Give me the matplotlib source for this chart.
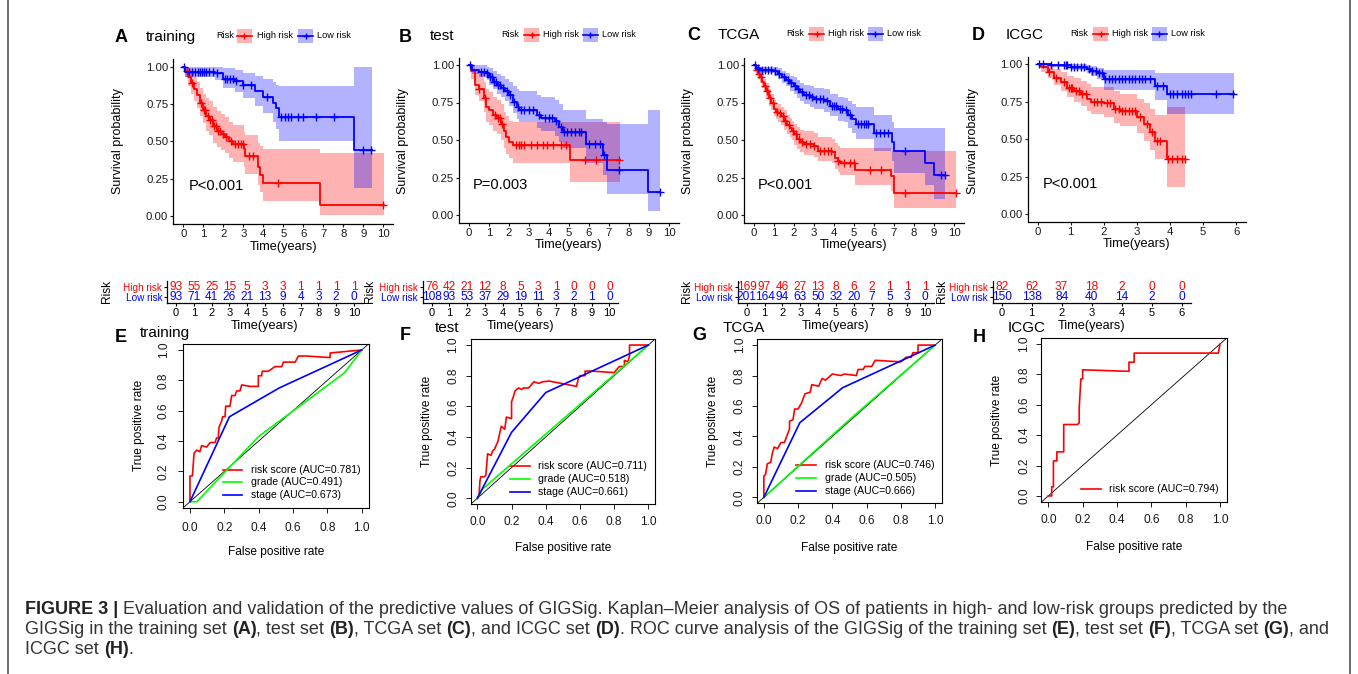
import numpy as np
import matplotlib
matplotlib.use('Agg')
import matplotlib.pyplot as plt
from matplotlib.patches import Rectangle

plt.rcParams['font.family'] = ['Liberation Sans', 'DejaVu Sans']

RED, BLUE, GREEN = '#FF0000', '#0000FF', '#00FF00'

# ---------------- Kaplan-Meier data (time in years) ----------------
# training
train_high_t = [0, 0.1, 0.25, 0.4, 0.55, 0.7, 0.85, 1.0, 1.15, 1.3, 1.5, 1.7, 1.9, 2.1, 2.3, 2.5, 3.05, 3.1, 3.75, 3.85, 4.0, 6.85, 10.05]
train_high_s = [1.0, 0.97, 0.93, 0.89, 0.85, 0.81, 0.76, 0.71, 0.67, 0.645, 0.6, 0.57, 0.55, 0.53, 0.5, 0.48, 0.45, 0.4, 0.33, 0.275, 0.22, 0.075, 0.075]
train_high_lo = [1.0, 0.93, 0.87, 0.82, 0.77, 0.72, 0.67, 0.62, 0.57, 0.54, 0.49, 0.46, 0.44, 0.42, 0.39, 0.36, 0.33, 0.28, 0.21, 0.16, 0.10, 0.01, 0.01]
train_high_hi = [1.0, 1.0, 0.99, 0.96, 0.93, 0.9, 0.86, 0.82, 0.79, 0.77, 0.73, 0.70, 0.68, 0.66, 0.63, 0.61, 0.56, 0.54, 0.49, 0.47, 0.45, 0.42, 0.42]
train_high_cens = [0.2, 0.45, 0.9, 1.05, 1.1, 1.25, 1.35, 1.45, 1.55, 1.65, 1.75, 1.85, 2.0, 2.15, 2.4, 2.6, 2.75, 2.9, 3.0, 3.3, 3.5, 4.75, 10.0]
train_low_t = [0, 0.1, 1.6, 2.0, 2.6, 3.0, 3.6, 4.0, 4.5, 4.65, 4.8, 8.55, 9.45]
train_low_s = [1.0, 0.965, 0.955, 0.92, 0.905, 0.875, 0.84, 0.80, 0.76, 0.72, 0.665, 0.445, 0.445]
train_low_lo = [1.0, 0.93, 0.91, 0.86, 0.83, 0.79, 0.74, 0.69, 0.63, 0.58, 0.505, 0.19, 0.19]
train_low_hi = [1.0, 1.0, 1.0, 0.99, 0.98, 0.96, 0.94, 0.92, 0.90, 0.88, 0.87, 1.0, 1.0]
train_low_cens = [0.05, 0.3, 0.45, 0.6, 0.75, 0.85, 0.95, 1.05, 1.15, 1.3, 1.5, 1.7, 2.1, 2.2, 2.35, 2.5, 2.65, 3.0, 3.4, 4.2, 4.9, 5.1, 5.25, 5.4, 5.75, 6.0, 6.65, 7.55, 9.0, 9.4]

# test
test_high_t = [0, 0.1, 0.3, 0.5, 0.75, 0.85, 1.0, 1.2, 1.4, 1.6, 1.75, 1.85, 2.0, 2.2, 5.05, 7.55]
test_high_s = [1.0, 0.96, 0.87, 0.84, 0.78, 0.72, 0.70, 0.67, 0.65, 0.61, 0.56, 0.52, 0.49, 0.465, 0.37, 0.37]
test_high_lo = [1.0, 0.91, 0.80, 0.76, 0.69, 0.62, 0.60, 0.56, 0.54, 0.50, 0.45, 0.41, 0.38, 0.345, 0.22, 0.22]
test_high_hi = [1.0, 1.0, 0.96, 0.94, 0.89, 0.84, 0.82, 0.79, 0.77, 0.74, 0.69, 0.66, 0.63, 0.62, 0.62, 0.62]
test_high_cens = [0.5, 0.8, 1.3, 1.45, 1.55, 1.65, 2.35, 2.5, 2.6, 2.75, 3.1, 3.4, 3.7, 3.9, 4.2, 4.6, 4.85, 5.8, 6.35, 7.5]
test_low_t = [0, 0.15, 0.5, 0.9, 1.0, 1.2, 1.4, 1.6, 1.8, 2.0, 2.2, 2.4, 2.5, 3.4, 3.6, 4.3, 4.5, 4.7, 5.85, 6.7, 6.9, 8.95, 9.55]
test_low_s = [1.0, 0.97, 0.955, 0.945, 0.92, 0.89, 0.87, 0.85, 0.83, 0.80, 0.755, 0.72, 0.70, 0.67, 0.65, 0.63, 0.59, 0.555, 0.475, 0.40, 0.30, 0.155, 0.155]
test_low_lo = [1.0, 0.94, 0.92, 0.90, 0.87, 0.84, 0.81, 0.79, 0.76, 0.73, 0.68, 0.64, 0.62, 0.58, 0.56, 0.53, 0.49, 0.45, 0.35, 0.27, 0.14, 0.03, 0.03]
test_low_hi = [1.0, 1.0, 1.0, 0.99, 0.98, 0.96, 0.94, 0.93, 0.91, 0.89, 0.86, 0.84, 0.83, 0.80, 0.79, 0.77, 0.74, 0.70, 0.64, 0.62, 0.61, 0.70, 0.70]
test_low_cens = [0.05, 0.6, 0.75, 0.9, 1.05, 1.15, 1.25, 1.35, 1.45, 1.55, 1.7, 1.9, 2.05, 2.25, 2.45, 2.6, 2.75, 3.0, 3.2, 3.5, 3.8, 4.0, 4.15, 4.35, 4.6, 4.75, 4.9, 5.1, 5.3, 5.5, 5.6, 6.0, 6.3, 6.55, 6.75, 7.5, 9.55]

# TCGA
tcga_high_t = [0, 0.1, 0.2, 0.3, 0.4, 0.5, 0.6, 0.75, 0.85, 1.0, 1.1, 1.2, 1.35, 1.5, 1.65, 1.8, 1.9, 2.0, 2.15, 2.3, 2.5, 3.0, 3.2, 3.9, 4.05, 4.2, 4.3, 5.05, 6.85, 7.0, 10.1]
tcga_high_s = [1.0, 0.97, 0.94, 0.92, 0.89, 0.86, 0.83, 0.78, 0.75, 0.71, 0.69, 0.68, 0.66, 0.63, 0.60, 0.58, 0.56, 0.54, 0.51, 0.49, 0.475, 0.46, 0.43, 0.42, 0.38, 0.36, 0.345, 0.30, 0.26, 0.15, 0.15]
tcga_high_lo = [1.0, 0.95, 0.91, 0.88, 0.85, 0.82, 0.78, 0.73, 0.70, 0.66, 0.64, 0.62, 0.60, 0.57, 0.54, 0.52, 0.50, 0.47, 0.44, 0.42, 0.40, 0.39, 0.36, 0.35, 0.31, 0.29, 0.27, 0.20, 0.16, 0.05, 0.05]
tcga_high_hi = [1.0, 0.99, 0.97, 0.96, 0.94, 0.91, 0.88, 0.84, 0.81, 0.77, 0.75, 0.74, 0.72, 0.70, 0.67, 0.65, 0.63, 0.61, 0.59, 0.57, 0.56, 0.55, 0.52, 0.51, 0.48, 0.46, 0.45, 0.45, 0.43, 0.43, 0.43]
tcga_high_cens = [0.15, 0.25, 0.35, 0.55, 0.65, 0.8, 0.95, 1.15, 1.3, 1.45, 1.55, 1.75, 1.95, 2.1, 2.25, 2.4, 2.6, 2.8, 3.0, 3.3, 3.5, 3.7, 3.85, 4.2, 4.5, 4.8, 5.0, 5.8, 6.35, 7.55, 10.1]
tcga_low_t = [0, 0.1, 0.3, 1.0, 1.2, 1.4, 1.6, 1.8, 2.0, 2.15, 2.3, 2.5, 2.8, 3.0, 3.5, 3.8, 4.2, 4.5, 4.7, 4.9, 5.1, 6.0, 6.9, 7.0, 8.55, 9.0, 9.55]
tcga_low_s = [1.0, 0.98, 0.97, 0.96, 0.94, 0.92, 0.90, 0.88, 0.86, 0.84, 0.82, 0.80, 0.785, 0.775, 0.76, 0.73, 0.71, 0.70, 0.67, 0.64, 0.61, 0.55, 0.49, 0.43, 0.35, 0.265, 0.265]
tcga_low_lo = [1.0, 0.96, 0.95, 0.93, 0.91, 0.88, 0.86, 0.83, 0.81, 0.78, 0.76, 0.74, 0.72, 0.71, 0.69, 0.66, 0.63, 0.62, 0.58, 0.55, 0.51, 0.43, 0.36, 0.28, 0.20, 0.11, 0.11]
tcga_low_hi = [1.0, 1.0, 0.99, 0.99, 0.98, 0.96, 0.95, 0.93, 0.92, 0.90, 0.88, 0.87, 0.86, 0.85, 0.84, 0.81, 0.79, 0.78, 0.76, 0.74, 0.72, 0.67, 0.62, 0.58, 0.58, 0.58, 0.58]
tcga_low_cens = [0.05, 0.2, 0.4, 0.55, 0.7, 0.85, 1.05, 1.25, 1.5, 1.7, 1.85, 2.05, 2.2, 2.4, 2.6, 2.75, 2.9, 3.1, 3.3, 3.45, 3.65, 3.9, 4.0, 4.1, 4.3, 4.4, 4.6, 4.8, 5.2, 5.35, 5.5, 5.6, 5.7, 6.1, 6.3, 6.5, 6.7, 7.55, 9.35, 9.55]

# ICGC
icgc_high_t = [0, 0.1, 0.3, 0.5, 0.7, 0.9, 1.1, 1.3, 1.5, 1.6, 2.0, 2.3, 2.5, 3.0, 3.2, 3.4, 3.55, 3.9, 4.45]
icgc_high_s = [1.0, 0.98, 0.95, 0.91, 0.88, 0.84, 0.82, 0.80, 0.77, 0.75, 0.74, 0.70, 0.685, 0.645, 0.60, 0.55, 0.49, 0.37, 0.37]
icgc_high_lo = [1.0, 0.95, 0.91, 0.86, 0.82, 0.78, 0.75, 0.72, 0.69, 0.67, 0.65, 0.61, 0.59, 0.54, 0.49, 0.43, 0.37, 0.18, 0.18]
icgc_high_hi = [1.0, 1.0, 0.99, 0.97, 0.95, 0.92, 0.91, 0.89, 0.87, 0.85, 0.85, 0.82, 0.80, 0.77, 0.74, 0.70, 0.66, 0.715, 0.715]
icgc_high_cens = [0.35, 0.55, 0.8, 0.95, 1.0, 1.05, 1.15, 1.25, 1.35, 1.45, 1.7, 1.8, 1.9, 2.1, 2.2, 2.35, 2.45, 2.55, 2.65, 2.75, 2.85, 2.95, 3.1, 3.3, 3.45, 3.6, 3.7, 3.95, 4.05, 4.2, 4.35, 4.45]
icgc_low_t = [0, 0.4, 1.0, 1.5, 1.6, 1.8, 2.0, 3.55, 3.9, 5.95]
icgc_low_s = [1.0, 0.995, 0.985, 0.97, 0.955, 0.94, 0.90, 0.855, 0.80, 0.80]
icgc_low_lo = [1.0, 0.985, 0.965, 0.945, 0.925, 0.905, 0.83, 0.76, 0.67, 0.67]
icgc_low_hi = [1.0, 1.0, 1.0, 0.995, 0.99, 0.975, 0.96, 0.945, 0.945, 0.945]
icgc_low_cens = [0.05, 0.15, 0.4, 0.6, 0.8, 0.85, 0.9, 1.0, 1.1, 1.2, 1.3, 1.4, 1.55, 1.65, 1.75, 1.85, 1.95, 2.05, 2.15, 2.25, 2.35, 2.45, 2.55, 2.65, 2.75, 2.85, 2.95, 3.05, 3.15, 3.25, 3.4, 3.6, 3.8, 4.0, 4.1, 4.2, 4.35, 4.45, 4.55, 4.65, 5.4, 5.9]

# ---------------- numbers at risk ----------------
times_10 = list(range(11))
times_6 = list(range(7))
train_risk_high = [93, 55, 25, 15, 5, 3, 3, 1, 1, 1, 1]
train_risk_low = [93, 71, 41, 26, 21, 13, 9, 4, 3, 2, 0]
test_risk_high = [76, 42, 21, 12, 8, 5, 3, 1, 0, 0, 0]
test_risk_low = [108, 93, 53, 37, 29, 19, 11, 3, 2, 1, 0]
tcga_risk_high = [169, 97, 46, 27, 13, 8, 6, 2, 1, 1, 1]
tcga_risk_low = [201, 164, 94, 63, 50, 32, 20, 7, 5, 3, 0]
icgc_risk_high = [82, 62, 37, 18, 2, 0, 0]
icgc_risk_low = [150, 138, 84, 40, 14, 2, 0]

# ---------------- ROC data ----------------
train_score_fpr = [0, 0, 0.014, 0.024, 0.039, 0.058, 0.068, 0.097, 0.117, 0.146, 0.155, 0.165, 0.169, 0.184, 0.19, 0.204, 0.208, 0.233, 0.243, 0.262, 0.272, 0.291, 0.301, 0.35, 0.398, 0.398, 0.417, 0.421, 0.456, 0.495, 0.534, 0.544, 0.612, 0.631, 0.68, 0.816, 0.816, 1.0]
train_score_tpr = [0, 0.17, 0.17, 0.32, 0.34, 0.33, 0.37, 0.36, 0.39, 0.39, 0.42, 0.42, 0.49, 0.53, 0.56, 0.56, 0.63, 0.63, 0.70, 0.70, 0.73, 0.73, 0.77, 0.76, 0.76, 0.83, 0.83, 0.86, 0.86, 0.89, 0.89, 0.92, 0.92, 0.96, 0.96, 0.95, 0.98, 1.0]
train_grade_fpr = [0, 0.04, 0.4, 0.9, 1.0]
train_grade_tpr = [0, 0.0, 0.43, 0.85, 1.0]
train_stage_fpr = [0, 0.23, 0.52, 1.0]
train_stage_tpr = [0, 0.56, 0.75, 1.0]

test_score_fpr = [0, 0.01, 0.015, 0.02, 0.04, 0.05, 0.06, 0.08, 0.09, 0.1, 0.12, 0.13, 0.14, 0.16, 0.17, 0.2, 0.2, 0.21, 0.22, 0.24, 0.26, 0.27, 0.3, 0.33, 0.36, 0.38, 0.42, 0.58, 0.59, 0.6, 0.63, 0.63, 0.67, 0.8, 0.83, 0.86, 0.86, 0.88, 0.89, 0.89, 1.0]
test_score_tpr = [0, 0.02, 0.11, 0.14, 0.14, 0.15, 0.29, 0.28, 0.31, 0.32, 0.37, 0.42, 0.47, 0.45, 0.53, 0.52, 0.63, 0.66, 0.70, 0.72, 0.71, 0.72, 0.72, 0.76, 0.75, 0.76, 0.765, 0.73, 0.78, 0.80, 0.80, 0.83, 0.83, 0.82, 0.86, 0.86, 0.90, 0.89, 0.93, 1.0, 1.0]
test_grade_fpr = [0, 0.03, 1.0]
test_grade_tpr = [0, 0.06, 1.0]
test_stage_fpr = [0, 0.2, 0.4, 1.0]
test_stage_tpr = [0, 0.43, 0.69, 1.0]

tcga_score_fpr = [0, 0, 0.01, 0.02, 0.04, 0.05, 0.06, 0.08, 0.1, 0.12, 0.13, 0.15, 0.15, 0.17, 0.18, 0.2, 0.22, 0.24, 0.27, 0.28, 0.32, 0.34, 0.36, 0.4, 0.45, 0.47, 0.54, 0.55, 0.58, 0.59, 0.63, 0.65, 0.8, 0.83, 0.86, 0.87, 0.9, 0.9, 1.0]
tcga_score_tpr = [0, 0.14, 0.15, 0.22, 0.23, 0.29, 0.33, 0.32, 0.36, 0.36, 0.39, 0.45, 0.50, 0.51, 0.58, 0.58, 0.62, 0.68, 0.69, 0.74, 0.73, 0.78, 0.77, 0.81, 0.80, 0.81, 0.80, 0.84, 0.84, 0.86, 0.86, 0.90, 0.89, 0.92, 0.92, 0.95, 0.95, 1.0, 1.0]
tcga_grade_fpr = [0, 0.5, 1.0]
tcga_grade_tpr = [0, 0.51, 1.0]
tcga_stage_fpr = [0, 0.21, 0.46, 1.0]
tcga_stage_tpr = [0, 0.49, 0.72, 1.0]

icgc_score_fpr = [0, 0.02, 0.02, 0.03, 0.03, 0.05, 0.05, 0.09, 0.09, 0.17, 0.18, 0.18, 0.19, 0.2, 0.2, 0.47, 0.47, 0.5, 0.5, 0.99, 1.0]
icgc_score_tpr = [0, 0.0, 0.06, 0.06, 0.23, 0.23, 0.29, 0.29, 0.47, 0.47, 0.48, 0.58, 0.77, 0.77, 0.83, 0.82, 0.88, 0.88, 0.94, 0.94, 1.0]

# ---------------- figure / helpers ----------------
W, H = 1358, 674
fig = plt.figure(figsize=(W / 100, H / 100), dpi=100)


def px_axes(l, t, r, b):
    return fig.add_axes([l / W, 1 - b / H, (r - l) / W, (b - t) / H])


ov = fig.add_axes([0, 0, 1, 1], zorder=10)
ov.set_xlim(0, W)
ov.set_ylim(H, 0)
ov.axis('off')


def step_at(t, s, x):
    idx = np.searchsorted(t, x, side='right') - 1
    return np.asarray(s)[idx]


def draw_km(box, tmax, ticks, curves, ptxt, pxy):
    ax = px_axes(*box)
    for t, s, lo, hi, cens, col in curves:
        ax.fill_between(t, lo, hi, step='post', color=col, alpha=0.3, lw=0)
    for t, s, lo, hi, cens, col in curves:
        ax.step(t, s, where='post', color=col, lw=1.3)
        ax.plot(cens, step_at(t, s, cens), ls='none', marker='+', ms=5.5, mew=1.0, color=col)
    ax.set_xlim(-0.05 * tmax, 1.05 * tmax)
    ax.set_ylim(-0.05, 1.05)
    ax.set_xticks(ticks)
    ax.set_yticks([0, 0.25, 0.5, 0.75, 1.0])
    ax.set_yticklabels(['0.00', '0.25', '0.50', '0.75', '1.00'])
    for sp in ['top', 'right']:
        ax.spines[sp].set_visible(False)
    for sp in ['left', 'bottom']:
        ax.spines[sp].set_linewidth(0.9)
    ax.tick_params(labelsize=8.2, length=2.5, width=0.8, pad=1.2, colors='#1a1a1a')
    ax.patch.set_alpha(0)
    ax.text(pxy[0], pxy[1], ptxt, fontsize=10.5, ha='left', va='center')
    return ax


def draw_table(box, tmax, times, high, low):
    ax = px_axes(*box)
    ax.set_xlim(-0.05 * tmax, 1.05 * tmax)
    ax.set_ylim(0.4, 2.6)
    for x, h, lw_ in zip(times, high, low):
        ax.text(x, 2, str(h), color=RED, ha='center', va='center', fontsize=8.6)
        ax.text(x, 1, str(lw_), color=BLUE, ha='center', va='center', fontsize=8.6)
    ax.set_xticks(times)
    ax.set_yticks([1, 2])
    ax.set_yticklabels(['Low risk', 'High risk'])
    for lab, col in zip(ax.get_yticklabels(), [BLUE, RED]):
        lab.set_color(col)
    for sp in ['top', 'right']:
        ax.spines[sp].set_visible(False)
    for sp in ['left', 'bottom']:
        ax.spines[sp].set_linewidth(0.9)
    ax.tick_params(axis='x', labelsize=8.0, length=2.5, width=0.8, pad=1.2)
    ax.tick_params(axis='y', labelsize=7.2, length=2.5, width=0.8, pad=1)
    ax.patch.set_alpha(0)
    return ax


def draw_roc(box, curves, pad_x):
    ax = px_axes(*box)
    ax.set_xlim(-0.04, 1.04)
    ax.set_ylim(-0.04, 1.04)
    ax.axline((0, 0), (1, 1), color='black', lw=0.6)
    ys = [0.21, 0.127, 0.043] if len(curves) == 3 else [0.043]
    for (x, y, col, lab), ly in zip(curves, ys):
        ax.plot(x, y, color=col, lw=1.2)
        ax.plot([0.19, 0.305], [ly, ly], color=col, lw=1.2)
        ax.text(0.355, ly, lab, fontsize=7.6, va='center', ha='left')
    ticks = [0, 0.2, 0.4, 0.6, 0.8, 1.0]
    ax.set_xticks(ticks)
    ax.set_yticks(ticks)
    labs = ['0.0', '0.2', '0.4', '0.6', '0.8', '1.0']
    ax.set_xticklabels(labs)
    ax.set_yticklabels(labs, rotation=90, va='center')
    for sp in ax.spines.values():
        sp.set_linewidth(0.8)
    ax.tick_params(labelsize=8.6, length=3.5, width=0.7, colors='#1a1a1a')
    ax.tick_params(axis='x', pad=pad_x)
    ax.tick_params(axis='y', pad=pad_x - 0.5)
    return ax


# ---------------- KM panels ----------------
km_panels = [
    dict(box=(173.3, 59.2, 393.3, 223.5), tmax=10, letter='A', title='training', lx=115, tx=146, ty=37,
         curves=[(train_high_t, train_high_s, train_high_lo, train_high_hi, train_high_cens, RED),
                 (train_low_t, train_low_s, train_low_lo, train_low_hi, train_low_cens, BLUE)],
         p='P<0.001', pxy=(0.25, 0.2), leg=(216.7, 236.7, 257.3, 298, 316.7), ylx=118.3, xl=(283.3, 246.7)),
    dict(box=(459, 57.5, 679, 222.5), tmax=10, letter='B', title='test', lx=398.3, tx=430, ty=36,
         curves=[(test_high_t, test_high_s, test_high_lo, test_high_hi, test_high_cens, RED),
                 (test_low_t, test_low_s, test_low_lo, test_low_hi, test_low_cens, BLUE)],
         p='P=0.003', pxy=(0.2, 0.2), leg=(501, 524, 542.7, 582.7, 602.3), ylx=403.3, xl=(568.3, 245)),
    dict(box=(744, 57.5, 964, 222.5), tmax=10, letter='C', title='TCGA', lx=687.7, tx=717.7, ty=35,
         curves=[(tcga_high_t, tcga_high_s, tcga_high_lo, tcga_high_hi, tcga_high_cens, RED),
                 (tcga_low_t, tcga_low_s, tcga_low_lo, tcga_low_hi, tcga_low_cens, BLUE)],
         p='P<0.001', pxy=(0.2, 0.2), leg=(786, 809, 827.7, 867.7, 887.3), ylx=688.3, xl=(853.3, 245)),
    dict(box=(1027.8, 56.8, 1246, 221.5), tmax=6, letter='D', title='ICGC', lx=971.7, tx=1006, ty=35,
         curves=[(icgc_high_t, icgc_high_s, icgc_high_lo, icgc_high_hi, icgc_high_cens, RED),
                 (icgc_low_t, icgc_low_s, icgc_low_lo, icgc_low_hi, icgc_low_cens, BLUE)],
         p='P<0.001', pxy=(0.15, 0.2), leg=(1070, 1093.3, 1111.7, 1151.7, 1171), ylx=973.3, xl=(1136.7, 244)),
]

for pn in km_panels:
    ticks = list(range(pn['tmax'] + 1))
    draw_km(pn['box'], pn['tmax'], ticks, pn['curves'], pn['p'], pn['pxy'])
    ov.text(pn['lx'], pn['ty'] + 1, pn['letter'], fontsize=13, fontweight='bold', ha='left', va='center')
    ov.text(pn['tx'], pn['ty'], pn['title'], fontsize=11, ha='left', va='center')
    cy = pn['ty'] - 1.5
    xr, xb1, xt1, xb2, xt2 = pn['leg']
    ov.text(xr, cy, 'Risk', fontsize=6.6, ha='left', va='center')
    for xb, xt, col, lab in [(xb1, xt1, RED, 'High risk'), (xb2, xt2, BLUE, 'Low risk')]:
        ov.add_patch(Rectangle((xb, cy - 7), 15, 14, facecolor=col, alpha=0.3, lw=0))
        ov.plot([xb, xb + 15], [cy, cy], color=col, lw=1.2)
        ov.plot([xb + 7.5], [cy], marker='+', ms=5, mew=1.0, color=col)
        ov.text(xt, cy, lab, fontsize=6.6, ha='left', va='center')
    ov.text(pn['ylx'], 141, 'Survival probability', fontsize=9, rotation=90, ha='center', va='center')
    ov.text(pn['xl'][0], pn['xl'][1], 'Time(years)', fontsize=9.2, ha='center', va='center')

# ---------------- risk tables ----------------
tables = [
    ((167.1, 280.7, 362.9, 302.7), 10, times_10, train_risk_high, train_risk_low, 107, 265),
    ((422.8, 280.7, 618.2, 302.7), 10, times_10, test_risk_high, test_risk_low, 370, 520.5),
    ((737.8, 280.7, 933.9, 302.7), 10, times_10, tcga_risk_high, tcga_risk_low, 687, 835.8),
    ((992.7, 280.7, 1190.7, 302.7), 6, times_6, icgc_risk_high, icgc_risk_low, 941.7, 1091.7),
]
for box, tmax, times, hi, lo, rx, cx in tables:
    draw_table(box, tmax, times, hi, lo)
    ov.text(rx, 291, 'Risk', fontsize=8.6, rotation=90, ha='center', va='center')
    ov.text(cx, 326, 'Time(years)', fontsize=9.2, ha='center', va='center')

# ---------------- ROC panels ----------------
roc_panels = [
    dict(box=(183.1, 343.9, 368.6, 507.8), letter='E', title='training', lx=115, ly=338, tx=140, ty=333,
         ylx=139.3, xly=551.7, pad=6.5,
         curves=[(train_score_fpr, train_score_tpr, RED, 'risk score (AUC=0.781)'),
                 (train_grade_fpr, train_grade_tpr, GREEN, 'grade (AUC=0.491)'),
                 (train_stage_fpr, train_stage_tpr, BLUE, 'stage (AUC=0.673)')]),
    dict(box=(470.5, 338.9, 655.2, 504.4), letter='F', title='test', lx=400, ly=335, tx=435, ty=328,
         ylx=426.7, xly=548.3, pad=5,
         curves=[(test_score_fpr, test_score_tpr, RED, 'risk score (AUC=0.711)'),
                 (test_grade_fpr, test_grade_tpr, GREEN, 'grade (AUC=0.518)'),
                 (test_stage_fpr, test_stage_tpr, BLUE, 'stage (AUC=0.661)')]),
    dict(box=(757, 339, 942, 503.4), letter='G', title='TCGA', lx=692, ly=335, tx=723, ty=328,
         ylx=713.3, xly=548.3, pad=5,
         curves=[(tcga_score_fpr, tcga_score_tpr, RED, 'risk score (AUC=0.746)'),
                 (tcga_grade_fpr, tcga_grade_tpr, GREEN, 'grade (AUC=0.505)'),
                 (tcga_stage_fpr, tcga_stage_tpr, BLUE, 'stage (AUC=0.666)')]),
    dict(box=(1041.4, 337.9, 1226.9, 502), letter='H', title='ICGC', lx=973, ly=338, tx=1008, ty=328,
         ylx=996.7, xly=546.7, pad=5,
         curves=[(icgc_score_fpr, icgc_score_tpr, RED, 'risk score (AUC=0.794)')]),
]
for pn in roc_panels:
    draw_roc(pn['box'], pn['curves'], pn['pad'])
    l, t, r, b = pn['box']
    ov.text(pn['lx'], pn['ly'], pn['letter'], fontsize=13, fontweight='bold', ha='left', va='center')
    ov.text(pn['tx'], pn['ty'], pn['title'], fontsize=11, ha='left', va='center')
    ov.text(pn['ylx'], (t + b) / 2, 'True positive rate', fontsize=8.6, rotation=90, ha='center', va='center')
    ov.text((l + r) / 2, pn['xly'], 'False positive rate', fontsize=8.6, ha='center', va='center')

# ---------------- caption ----------------
CAP_FS = 13
renderer = fig.canvas.get_renderer()


def text_width(s, weight):
    t1 = ov.text(0, 0, '|' + s + '|', fontsize=CAP_FS, fontweight=weight)
    t2 = ov.text(0, 0, '||', fontsize=CAP_FS, fontweight=weight)
    w = t1.get_window_extent(renderer).width - t2.get_window_extent(renderer).width
    t1.remove()
    t2.remove()
    return w


caption_lines = [
    [('FIGURE 3 | ', 'bold'),
     ('Evaluation and validation of the predictive values of GIGSig. Kaplan\u2013Meier analysis of OS of patients in high- and low-risk groups predicted by the', 'normal')],
    [('GIGSig in the training set ', 'normal'), ('(A)', 'bold'), (', test set ', 'normal'), ('(B)', 'bold'),
     (', TCGA set ', 'normal'), ('(C)', 'bold'), (', and ICGC set ', 'normal'), ('(D)', 'bold'),
     ('. ROC curve analysis of the GIGSig of the training set ', 'normal'), ('(E)', 'bold'),
     (', test set ', 'normal'), ('(F)', 'bold'), (', TCGA set ', 'normal'), ('(G)', 'bold'), (', and', 'normal')],
    [('ICGC set ', 'normal'), ('(H)', 'bold'), ('.', 'normal')],
]
for line, y in zip(caption_lines, [609, 629, 649]):
    x = 25
    for s, wgt in line:
        ov.text(x, y, s, fontsize=CAP_FS, fontweight=wgt, ha='left', va='center',
                color='#222222' if wgt == 'bold' else '#333333')
        x += text_width(s, wgt)

# frame
ov.plot([8, 8], [0, H], color='#555555', lw=1.2)
ov.plot([1350, 1350], [0, H], color='#555555', lw=1.2)

fig.savefig('out.png', dpi=100)
